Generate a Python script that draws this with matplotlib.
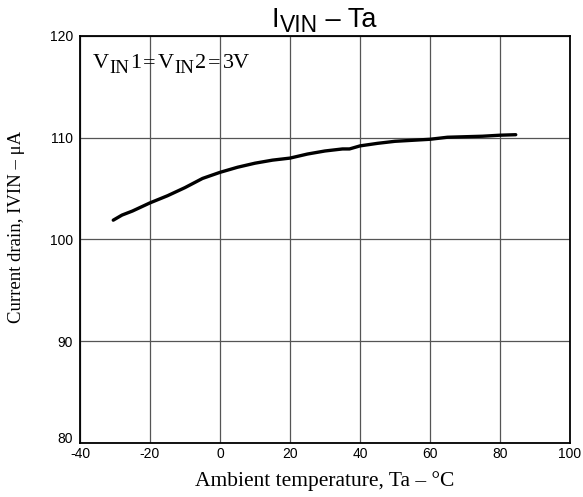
import matplotlib
matplotlib.use("Agg")
import matplotlib.pyplot as plt
from matplotlib.transforms import offset_copy, Bbox

temps = [-30.5, -28, -25, -20, -15, -10, -5, 0, 5, 10, 15, 20, 25, 30, 35, 37,
         40, 45, 50, 55, 60, 65, 70, 75, 80, 84.5]
current = [101.9, 102.4, 102.8, 103.6, 104.3, 105.1, 106.0, 106.6, 107.1, 107.5,
           107.8, 108.0, 108.4, 108.7, 108.9, 108.9, 109.2, 109.45, 109.65, 109.75,
           109.85, 110.05, 110.1, 110.15, 110.25, 110.3]
xticks = [-40, -20, 0, 20, 40, 60, 80, 100]
yticks = [80, 90, 100, 110, 120]

W, H = 583, 497
fig = plt.figure(figsize=(W / 100, H / 100), dpi=100)
ax = fig.add_axes([80 / W, 1 - 443 / H, 490 / W, 407 / H])

ax.plot(temps, current, color='black', lw=2.4, solid_capstyle='round')
ax.set_xlim(-40, 100)
ax.set_ylim(80, 120)
ax.set_xticks(xticks)
ax.set_yticks(yticks)
ax.set_xticklabels([str(t) for t in xticks], family='Liberation Sans', fontsize=10)
ax.set_yticklabels([str(t) for t in yticks], family='Liberation Sans', fontsize=10)
ax.tick_params(axis='x', length=0, pad=3)
ax.tick_params(axis='y', length=0, pad=5)
for lbl in ax.get_yticklabels():
    if lbl.get_text() == '80':
        lbl.set_transform(offset_copy(lbl.get_transform(), fig=fig, x=0, y=5, units='dots'))
ax.grid(True, color='#555555', lw=0.9)
for s in ax.spines.values():
    s.set_linewidth(1.3)
    s.set_color('black')

ax.set_xlabel('Ambient temperature, Ta – °C', family='Liberation Serif', fontsize=15.5, labelpad=7)
ax.set_ylabel('Current drain, IVIN – μA', family='Liberation Serif', fontsize=13.5)
ax.yaxis.set_label_coords(-0.112, 0.53)


def pieces_text(x_px, y_px, pieces, family):
    """pieces = (text, size_pt, drop_px, gap_px_before)."""
    prev = None
    for txt, size, dy, gap in pieces:
        if prev is None:
            t = fig.text(x_px / W, 1 - (y_px + dy) / H, txt, fontsize=size, family=family,
                         va='baseline', ha='left')
        else:
            def anchor(r, tt=prev, yb=y_px):
                bb = tt.get_window_extent(r)
                return Bbox.from_extents(bb.x0, H - yb, bb.x1, H - yb + 1)
            t = ax.annotate(txt, xy=(1, 0), xycoords=anchor, xytext=(gap * 0.72, -dy * 0.72),
                            textcoords='offset points', fontsize=size, family=family,
                            va='baseline', ha='left', annotation_clip=False)
        prev = t


# title
pieces_text(272, 27, [('I', 19.5, 0, 0), ('VIN', 16.5, 5, 0.5), (' – Ta', 19.5, 0, 0)],
            'Liberation Sans')
# annotation
pieces_text(93, 68, [('V', 16, 0, 0), ('IN', 13.5, 5, 0.5), ('1', 16, 0, 0.5),
                     ('=', 16, 0, 2), ('V', 16, 0, 2), ('IN', 13.5, 5, 0.5),
                     ('2', 16, 0, 0.5), ('=', 16, 0, 2), ('3V', 16, 0, 2)],
            'Liberation Serif')

fig.savefig('out.png', dpi=100)
